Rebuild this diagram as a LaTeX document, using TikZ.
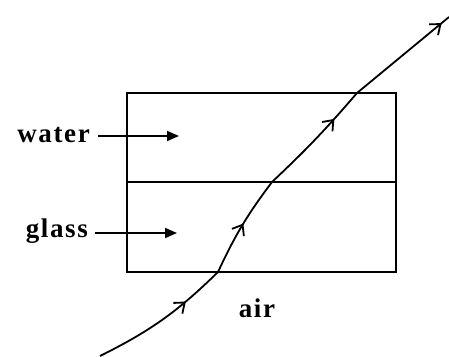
\documentclass[tikz,border=0pt]{standalone}
\usepackage{fontspec}
\setmainfont{Liberation Serif}
\usetikzlibrary{arrows.meta,decorations.markings}
\tikzset{
  lbl/.style={font=\fontsize{27}{30}\selectfont\bfseries\addfontfeature{LetterSpace=6}, inner sep=0pt},
  box/.style={draw, line width=1.8pt},
  pointer/.style={line width=1.8pt, -{Triangle[length=12pt,width=10pt]}},
  ray/.style={line width=1.8pt, postaction={decorate}},
  midarrow/.style={decoration={markings, mark=at position #1 with {\arrow{Straight Barb[length=9pt,width=14pt,line width=1.8pt]}}}},
}
\begin{document}
\begin{tikzpicture}[x=1pt,y=1pt]
\useasboundingbox (0,0) rectangle (449,356);
% container
\draw[box] (127,263) rectangle (396,84);
\draw[box] (127,174) -- (396,174);
% ray points
\coordinate (p0) at (100,0);
\coordinate (p1) at (218,84);
\coordinate (p2) at (272,174);
\coordinate (p3) at (357,263);
\coordinate (p4) at (449,339);
\draw[ray, midarrow=0.7] (p0) to[bend right=9] (p1);
\draw[ray, midarrow=0.52] (p1) to[bend left=6] (p2);
\draw[ray, midarrow=0.72] (p2) to[bend right=3] (p3);
\draw[ray, midarrow=0.92] (p3) -- (p4);
% labels
\node[lbl, anchor=base east] (water) at (90,213) {water};
\node[lbl, anchor=base east] (glass) at (88,118) {glass};
\node[lbl, anchor=base] (air) at (257,39) {air};
\coordinate (wt) at (179,220);
\coordinate (gt) at (177,123);
\draw[pointer] (water.east |- wt) ++(8,0) coordinate (ws) -- (wt);
\draw[pointer] (glass.east |- gt) ++(7,0) coordinate (gs) -- (gt);
\end{tikzpicture}
\end{document}
